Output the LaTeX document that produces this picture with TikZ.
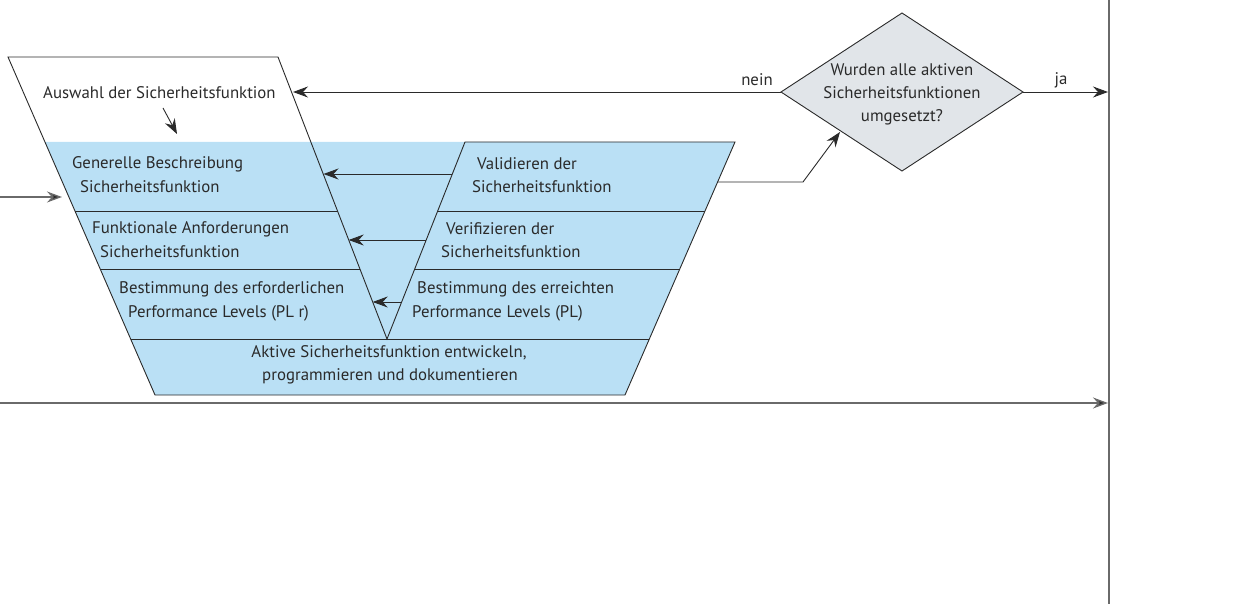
\documentclass[tikz,border=0pt]{standalone}
\usepackage{fontspec}
\setmainfont{PT Sans}
\usetikzlibrary{arrows.meta}
\definecolor{funnelblue}{HTML}{BAE0F5}
\definecolor{diagray}{HTML}{E1E5E9}
\definecolor{txt}{HTML}{2A2A2A}
\definecolor{lng}{HTML}{6A6A6A}
\begin{document}
\begin{tikzpicture}[x=1pt,y=-1pt,
  lbl/.style={inner sep=0pt,font=\fontsize{16.8}{20}\selectfont,text=txt},
  lw/.style={lbl,anchor=west},
  edge/.style={draw=txt,line width=0.9pt},
  tip/.style={-{Stealth[length=15pt,width=11pt,inset=5pt]}},
  arr/.style={draw=txt,line width=0.9pt,tip},
  longline/.style={draw=lng,line width=1.4pt},
  longarr/.style={longline,-{Stealth[length=15pt,width=11pt,inset=5pt,fill=txt]}}]
\useasboundingbox (0,0) rectangle (1237,604);
% funnel coordinates
\coordinate (pTL) at (8,57);
\coordinate (pTR) at (278,57);
\coordinate (apex) at (387,339);
\coordinate (vTR) at (465,142);
\coordinate (fTR) at (735,142);
\coordinate (fBR) at (625,395);
\coordinate (fBL) at (155,395);
\coordinate (fTL) at (45,142);
% blue fill
\fill[funnelblue] (fTL) -- (fTR) -- (fBR) -- (fBL) -- cycle;
% outlines
\draw[edge] (fBL) -- (pTL) -- (pTR) -- (apex) -- (vTR) -- (fTR) -- (fBR) -- cycle;
\draw[edge] (130.7,339) -- (649.3,339);
\draw[edge] (75,211) -- (337.5,211);
\draw[edge] (437.7,211) -- (705,211);
\draw[edge] (100,269) -- (360,269);
\draw[edge] (414.7,269) -- (679.8,269);
% texts
\node[lw] (t0) at (43,93) {Auswahl der Sicherheitsfunktion};
\node[lw] (g1) at (72,164) {Generelle Beschreibung};
\node[lw] (g2) at (80,187) {Sicherheitsfunktion};
\node[lw] (f1) at (92,229) {Funktionale Anforderungen};
\node[lw] (f2) at (100,252) {Sicherheitsfunktion};
\node[lw] (b1) at (119,289) {Bestimmung des erforderlichen};
\node[lw] (b2) at (128,313) {Performance Levels (PL r)};
\node[lw] (v1) at (477,164) {Validieren der};
\node[lw] (v2) at (472,187) {Sicherheitsfunktion};
\node[lw] (w1) at (446,229) {Verifizieren der};
\node[lw] (w2) at (441,252) {Sicherheitsfunktion};
\node[lw] (e1) at (417,289) {Bestimmung des erreichten};
\node[lw] (e2) at (412,313) {Performance Levels (PL)};
\node[lbl] (a1) at (389,353) {Aktive Sicherheitsfunktion entwickeln,};
\node[lbl] (a2) at (390,376) {programmieren und dokumentieren};
% small arrow
\coordinate (s1) at (163,108);
\coordinate (s2) at (177,134);
\draw[arr] (s1) -- (s2);
% V arrows
\coordinate (va1) at (452,174); \coordinate (vb1) at (323.5,174);
\coordinate (va2) at (426,240); \coordinate (vb2) at (348.7,240);
\coordinate (va3) at (401.7,302); \coordinate (vb3) at (372.7,302);
\draw[arr] (va1) -- (vb1);
\draw[arr] (va2) -- (vb2);
\draw[arr] (va3) -- (vb3);
% diamond
\coordinate (dT) at (902,13);
\coordinate (dL) at (781,92);
\coordinate (dB) at (902,171);
\coordinate (dR) at (1023,92);
\draw[edge,fill=diagray] (dT) -- (dR) -- (dB) -- (dL) -- cycle;
\node[lbl,align=center] (dq) at (902,94) {Wurden alle aktiven\\[3pt]Sicherheitsfunktionen\\[3pt]umgesetzt?};
% connectors
\coordinate (nTip) at (293,92);
\draw[arr] (dL) -- (nTip);
\node[lbl] (nein) at (757,80) {nein};
\coordinate (jTip) at (1108,92);
\draw[arr] (dR) -- (jTip);
\node[lbl] (ja) at (1061,80) {ja};
\coordinate (o1) at (718,182);
\coordinate (o2) at (803,182);
\coordinate (o3) at (840,132);
\draw[arr] (o1) -- (o2) -- (o3);
\coordinate (inS) at (0,197);
\coordinate (inT) at (62,197);
\draw[longarr] (inS) -- (inT);
\coordinate (botS) at (0,403);
\coordinate (botT) at (1108,403);
\draw[longarr] (botS) -- (botT);
\coordinate (vlT) at (1109,0);
\coordinate (vlB) at (1109,604);
\draw[longline] (vlT) -- (vlB);
\end{tikzpicture}
\end{document}
